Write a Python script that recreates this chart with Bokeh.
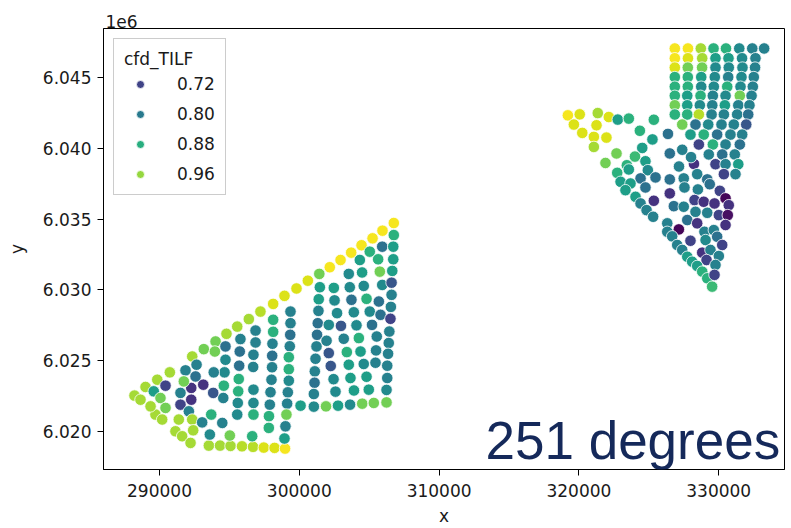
import numpy as np
from bokeh.plotting import figure
from bokeh.models import (ColumnDataSource, LinearColorMapper, Legend, LegendItem, Label,
                          Range1d, SingleIntervalTicker, BasicTickFormatter, CustomJSTickFormatter)
from bokeh.palettes import Viridis256
from bokeh.embed import file_html
from bokeh.resources import INLINE

# ---- data: (x, y, cfd_TILF) ----
left_edge = [
    (288210, 6022540, 0.97), (289000, 6023150, 0.97), (289840, 6023660, 0.97), (290740, 6024180, 0.97),
    (292340, 6025300, 0.97), (293170, 6025820, 0.94), (294010, 6026360, 0.94), (294790, 6026900, 0.97),
    (295560, 6027410, 0.97), (296390, 6027940, 0.97), (297220, 6028470, 0.98), (298130, 6029010, 1.0),
    (298940, 6029580, 1.0), (299800, 6030100, 1.0), (300610, 6030650, 1.0), (301430, 6031130, 0.94),
    (302180, 6031600, 1.015), (302950, 6032110, 1.015), (303710, 6032630, 1.015), (304450, 6033150, 1.015),
    (305240, 6033640, 1.015), (305950, 6034180, 1.015), (306760, 6034720, 1.015)]

left_bottom = [
    (293530, 6019010, 0.97), (294330, 6019010, 0.97), (295080, 6018990, 0.97), (295900, 6018960, 0.98),
    (296690, 6018920, 0.98), (297460, 6018870, 1.0), (298230, 6018850, 1.0), (298980, 6018800, 1.015)]

left_west = [
    (296870, 6027130, 0.81), (296870, 6026290, 0.81), (296720, 6025420, 0.81), (296700, 6024560, 0.81),
    (296720, 6022960, 0.825), (296720, 6022020, 0.825), (296720, 6021200, 0.885), (296630, 6019670, 0.885),
    (295790, 6026530, 0.81), (295740, 6025650, 0.785), (295700, 6024650, 0.785), (295670, 6023710, 0.885),
    (295630, 6022840, 0.885), (295600, 6022020, 0.825), (295560, 6021200, 0.825),
    (294720, 6026010, 0.785), (294720, 6025070, 0.825), (294650, 6024180, 0.825), (294600, 6023240, 0.885),
    (294560, 6022370, 0.81),
    (293960, 6025650, 0.94), (293880, 6024180, 0.81), (293840, 6022730, 0.745), (293700, 6021200, 0.885),
    (294490, 6020610, 0.81),
    (293130, 6023310, 0.70), (292650, 6024720, 0.81), (292580, 6023890, 0.785), (292270, 6023080, 0.70),
    (292270, 6022250, 0.70), (291860, 6024320, 0.81), (291740, 6023540, 0.94), (291500, 6022730, 0.81),
    (291500, 6021900, 0.72), (292100, 6021430, 0.81),
    (290430, 6023240, 0.72), (289590, 6022840, 0.855), (290070, 6022370, 0.94), (290430, 6021670, 0.94),
    (289710, 6021200, 0.97), (289360, 6021780, 0.97), (288640, 6022250, 0.97), (290190, 6020850, 0.97),
    (291380, 6020850, 0.97), (292340, 6020850, 0.97), (293050, 6020650, 0.81),
    (291140, 6020020, 0.97), (292410, 6020090, 0.97), (291620, 6019670, 0.97), (292220, 6019200, 0.97),
    (293600, 6019790, 0.825), (295030, 6019720, 0.94)]

left_mid = [
    (298130, 6027890, 0.885), (298130, 6027040, 0.885), (298080, 6026200, 0.81), (298060, 6025350, 0.785),
    (298050, 6024540, 0.81), (298010, 6023660, 0.81), (297940, 6022780, 0.81), (297890, 6021900, 0.81),
    (297830, 6021090, 0.885), (297820, 6020260, 0.885),
    (299370, 6028470, 0.81), (299370, 6027650, 0.81), (299350, 6026830, 0.785), (299320, 6026020, 0.81),
    (299250, 6025250, 0.885), (299250, 6024400, 0.885), (299250, 6023590, 0.825), (299180, 6022770, 0.81),
    (299130, 6021970, 0.81), (299080, 6021200, 0.94), (299010, 6020370, 0.81), (298940, 6019510, 0.855)]

left_east = [
    (301470, 6030190, 0.855), (301390, 6029340, 0.855), (301370, 6028520, 0.81), (301320, 6027650, 0.785),
    (301270, 6026830, 0.785), (301230, 6026010, 0.81), (301160, 6025140, 0.81), (301110, 6024250, 0.81),
    (301090, 6023450, 0.785), (301040, 6022650, 0.81), (301040, 6021760, 0.825),
    (302470, 6030140, 0.855), (302520, 6029260, 0.825), (302700, 6028360, 0.825), (302980, 6027460, 0.745),
    (302110, 6027530, 0.825), (301950, 6026410, 0.81), (302110, 6025540, 0.745), (302250, 6024630, 0.745),
    (302450, 6023700, 0.825), (302590, 6022820, 0.825),
    (303540, 6031130, 0.825), (303610, 6030190, 0.825), (303730, 6029300, 0.785), (303900, 6028420, 0.825),
    (304090, 6027500, 0.825), (303180, 6026550, 0.81), (303400, 6025610, 0.885), (303540, 6024720, 0.855),
    (303660, 6023780, 0.855), (303910, 6022900, 0.855),
    (304330, 6032110, 0.855), (304490, 6031230, 0.855), (304610, 6030280, 0.825), (304810, 6029370, 0.885),
    (305040, 6028470, 0.825), (305200, 6027530, 0.785), (304260, 6026600, 0.885), (304380, 6025650, 0.855),
    (304610, 6024770, 0.825), (304810, 6023870, 0.855), (304970, 6022960, 0.855),
    (305040, 6032700, 0.885), (305930, 6033050, 0.785), (305640, 6032160, 0.885), (305760, 6031290, 0.94),
    (305930, 6030350, 0.825), (305690, 6029180, 0.785), (305810, 6028240, 0.785), (305540, 6026710, 0.81),
    (305490, 6025730, 0.81), (305450, 6024860, 0.81),
    (306760, 6033870, 0.885), (306720, 6033050, 0.855), (306720, 6032160, 0.855), (306650, 6031340, 0.855),
    (306600, 6030510, 0.745), (306600, 6029650, 0.81), (306550, 6028800, 0.81), (306520, 6027960, 0.72),
    (306440, 6027060, 0.81), (306400, 6026250, 0.81), (306350, 6025490, 0.81), (306290, 6024650, 0.81),
    (306290, 6023780, 0.81), (306240, 6022940, 0.825),
    (300090, 6021830, 0.855), (301910, 6021780, 0.94), (302770, 6021830, 0.855), (303630, 6021900, 0.825),
    (304500, 6021970, 0.94), (305330, 6022020, 0.94), (306240, 6022060, 0.94)]

right_block = [
    (326860, 6047040, 1.015), (327800, 6047040, 1.015), (328720, 6047040, 0.97), (329630, 6047040, 0.885),
    (330520, 6047040, 0.885), (331470, 6047040, 0.825), (332400, 6047040, 0.81), (333250, 6047040, 0.81),
    (326860, 6046350, 1.015), (327800, 6046350, 1.0), (328820, 6046350, 0.97), (329770, 6046350, 0.855),
    (330700, 6046350, 0.855), (331670, 6046350, 0.825), (332630, 6046350, 0.81),
    (326860, 6045690, 1.0), (327790, 6045690, 0.94), (328810, 6045690, 0.94), (329770, 6045690, 0.825),
    (330720, 6045690, 0.825), (331700, 6045690, 0.825), (332600, 6045690, 0.81),
    (326860, 6045020, 0.885), (327790, 6045020, 0.885), (328750, 6045020, 0.855), (329720, 6045020, 0.825),
    (330680, 6045020, 0.81), (331630, 6045020, 0.825), (332510, 6045020, 0.81),
    (326860, 6044340, 0.885), (327790, 6044340, 0.885), (328750, 6044340, 0.825), (329650, 6044340, 0.825),
    (330610, 6044340, 0.885), (331560, 6044340, 0.825), (332440, 6044340, 0.81),
    (326860, 6043700, 0.885), (327750, 6043700, 0.855), (328700, 6043700, 0.885), (329580, 6043700, 0.81),
    (330490, 6043700, 0.825), (331510, 6043700, 0.94), (332350, 6043700, 0.81),
    (326860, 6043030, 0.94), (327750, 6043030, 0.855), (328650, 6043030, 0.825), (329540, 6043030, 0.81),
    (330440, 6043030, 0.855), (331400, 6043030, 0.81), (332200, 6043030, 0.81),
    (326860, 6042380, 0.885), (327750, 6042380, 0.885), (328580, 6042380, 0.98), (329490, 6042380, 0.81),
    (330370, 6042380, 0.81), (331320, 6042380, 0.81), (332110, 6042380, 0.785),
    (327390, 6041670, 0.94), (328340, 6041670, 0.785), (329250, 6041670, 0.825), (330200, 6041670, 0.81),
    (331080, 6041670, 0.81), (331970, 6041670, 0.745),
    (327980, 6040960, 0.855), (328930, 6040960, 0.885), (329890, 6040960, 0.785), (330840, 6040960, 0.81),
    (331680, 6040960, 0.81),
    (328580, 6040260, 0.72), (329580, 6040260, 0.885), (330490, 6040260, 0.81), (331510, 6040260, 0.785),
    (329290, 6039560, 0.81), (330250, 6039560, 0.785), (331150, 6039560, 0.81),
    (329770, 6038870, 0.72), (330490, 6038870, 0.81), (331400, 6038870, 0.855),
    (330370, 6038170, 0.72), (331200, 6038170, 0.81)]

right_wing = [
    (319210, 6042320, 1.015), (320060, 6042390, 1.0), (321350, 6042480, 0.97), (322140, 6042200, 1.0),
    (319640, 6041670, 1.0), (321260, 6041620, 1.0), (320240, 6041080, 1.0), (321070, 6040800, 1.0),
    (321970, 6040750, 1.0), (321070, 6040090, 0.97)]

right_south = [
    (322780, 6042020, 0.855), (323570, 6042090, 0.885), (325360, 6042010, 0.885), (324360, 6041230, 0.885),
    (326370, 6041010, 0.785), (325260, 6040620, 0.855), (324530, 6040020, 0.855), (326500, 6039630, 0.785),
    (327390, 6039890, 0.81),
    (322690, 6039630, 0.94), (324010, 6039410, 0.90), (321900, 6038960, 0.94), (323430, 6038800, 0.885),
    (324760, 6039080, 0.855), (327160, 6038710, 0.81), (328230, 6038890, 0.70), (328020, 6039370, 0.81),
    (322740, 6038260, 0.885), (323570, 6038500, 0.855), (324930, 6038450, 0.825), (325480, 6037940, 0.785),
    (324410, 6037870, 0.785), (326500, 6037800, 0.785), (327500, 6037870, 0.81), (328460, 6038170, 0.81),
    (329180, 6037800, 0.785),
    (322980, 6037630, 0.855), (323690, 6037510, 0.855), (324760, 6037230, 0.785), (326500, 6036810, 0.70),
    (327550, 6037230, 0.81), (328510, 6037090, 0.81), (329360, 6037460, 0.785), (330080, 6036990, 0.72),
    (323330, 6037040, 0.855), (324050, 6036570, 0.855), (325360, 6036290, 0.70), (328270, 6036340, 0.72),
    (328930, 6036220, 0.70), (329700, 6036100, 0.70), (330490, 6036460, 0.65),
    (324410, 6036100, 0.81), (324840, 6035630, 0.81), (325310, 6035160, 0.81), (326790, 6035910, 0.785),
    (327500, 6035870, 0.81), (328340, 6035510, 0.81), (329180, 6035440, 0.81), (330010, 6035280, 0.72),
    (330720, 6035980, 0.70), (330650, 6035280, 0.66),
    (326320, 6034700, 0.81), (327150, 6034270, 0.65), (327750, 6034930, 0.785), (328460, 6034700, 0.70),
    (328980, 6034100, 0.81), (329650, 6034220, 0.81), (330490, 6034580, 0.70),
    (326320, 6034100, 0.81), (326670, 6033780, 0.81), (327030, 6033170, 0.81), (327980, 6033470, 0.72),
    (329060, 6033520, 0.825), (329890, 6033750, 0.785), (330250, 6033170, 0.72),
    (327390, 6032820, 0.81), (327750, 6032340, 0.855), (328100, 6031990, 0.855), (328820, 6032630, 0.70),
    (329410, 6032820, 0.81), (329130, 6032110, 0.72), (330010, 6032390, 0.81), (329770, 6031760, 0.81),
    (328460, 6031690, 0.855), (328820, 6031290, 0.885), (329180, 6030820, 0.885), (329700, 6031060, 0.72),
    (329530, 6030230, 0.90)]

legend_values = [0.72, 0.80, 0.88, 0.96]
legend_title = "cfd_TILF"
x_ticks_step = 10000
y_ticks_step = 5000
annotation_text = "251 degrees"
offset_text = "1e6"

# ---- build ----
all_pts = left_edge + left_bottom + left_west + left_mid + left_east + right_block + right_wing + right_south
src = ColumnDataSource(dict(x=[q[0] for q in all_pts],
                            y=[q[1] for q in all_pts],
                            v=[q[2] for q in all_pts]))

LOW, HIGH = 0.645, 1.02
mapper = LinearColorMapper(palette=Viridis256, low=LOW, high=HIGH)

FONT = "DejaVu Sans"
TXT = "#1a1a1a"

p = figure(width=791, height=528, output_backend="svg", toolbar_location=None,
           x_range=Range1d(285994, 334706), y_range=Range1d(6017324, 6048450),
           min_border_left=103, min_border_right=7, min_border_top=28, min_border_bottom=58,
           background_fill_color="white", border_fill_color="white")
p.grid.visible = False
p.outline_line_color = "black"
p.outline_line_width = 1
p.outline_line_alpha = 1

p.title.text = offset_text
p.title.text_font = FONT
p.title.text_font_size = "17px"
p.title.text_font_style = "normal"
p.title.text_color = TXT
p.title.align = "left"
p.title.offset = 2
p.title.standoff = 2

p.scatter("x", "y", source=src, size=11.5, marker="circle",
          fill_color={"field": "v", "transform": mapper}, line_color="white", line_width=0.8)

p.xaxis.ticker = SingleIntervalTicker(interval=x_ticks_step, num_minor_ticks=0)
p.yaxis.ticker = SingleIntervalTicker(interval=y_ticks_step, num_minor_ticks=0)
p.xaxis.formatter = BasicTickFormatter(use_scientific=False)
p.yaxis.formatter = CustomJSTickFormatter(code="return (tick/1e6).toFixed(3);")
p.xaxis.axis_label = "x"
p.yaxis.axis_label = "y"
for ax in (p.xaxis[0], p.yaxis[0]):
    ax.major_label_text_font = FONT
    ax.major_label_text_font_size = "17px"
    ax.major_label_text_color = TXT
    ax.axis_label_text_font = FONT
    ax.axis_label_text_font_size = "17px"
    ax.axis_label_text_font_style = "normal"
    ax.axis_label_text_color = TXT
    ax.major_tick_out = 6
    ax.major_tick_in = 0
    ax.minor_tick_out = 0
    ax.minor_tick_in = 0
    ax.minor_tick_line_color = None
    ax.axis_line_color = "black"
    ax.major_tick_line_color = "black"
p.xaxis.major_label_standoff = 8
p.xaxis.axis_label_standoff = 6
p.yaxis.major_label_standoff = 6
p.yaxis.axis_label_standoff = 13

# legend glyphs: one invisible (NaN-position) row per legend value, coloured by the same mapper
leg_src = ColumnDataSource(dict(x=np.full(len(legend_values), np.nan),
                                y=np.full(len(legend_values), np.nan),
                                v=np.array(legend_values)))
leg_r = p.scatter("x", "y", source=leg_src, size=8, marker="circle",
                  fill_color={"field": "v", "transform": mapper}, line_color="white", line_width=0.8)
items = [LegendItem(label=f"{v:.2f}", renderers=[leg_r], index=i) for i, v in enumerate(legend_values)]
legend = Legend(items=items, location="top_left", title=legend_title, margin=10,
                padding=10, spacing=10, glyph_width=32, glyph_height=20, label_height=20,
                label_standoff=21, label_text_font=FONT, label_text_font_size="17px",
                title_text_font=FONT, title_text_font_size="17px", title_text_font_style="normal",
                title_standoff=5, border_line_color="#cccccc", border_line_alpha=1,
                background_fill_alpha=0.8, label_text_color=TXT, title_text_color=TXT)
p.add_layout(legend)

p.add_layout(Label(x=382, y=29, x_units="screen", y_units="screen", text=annotation_text,
                   text_font="Liberation Sans", text_font_size="53px", text_color="#15295a",
                   text_baseline="alphabetic"))

open("out.html", "w").write(file_html(p, INLINE))
